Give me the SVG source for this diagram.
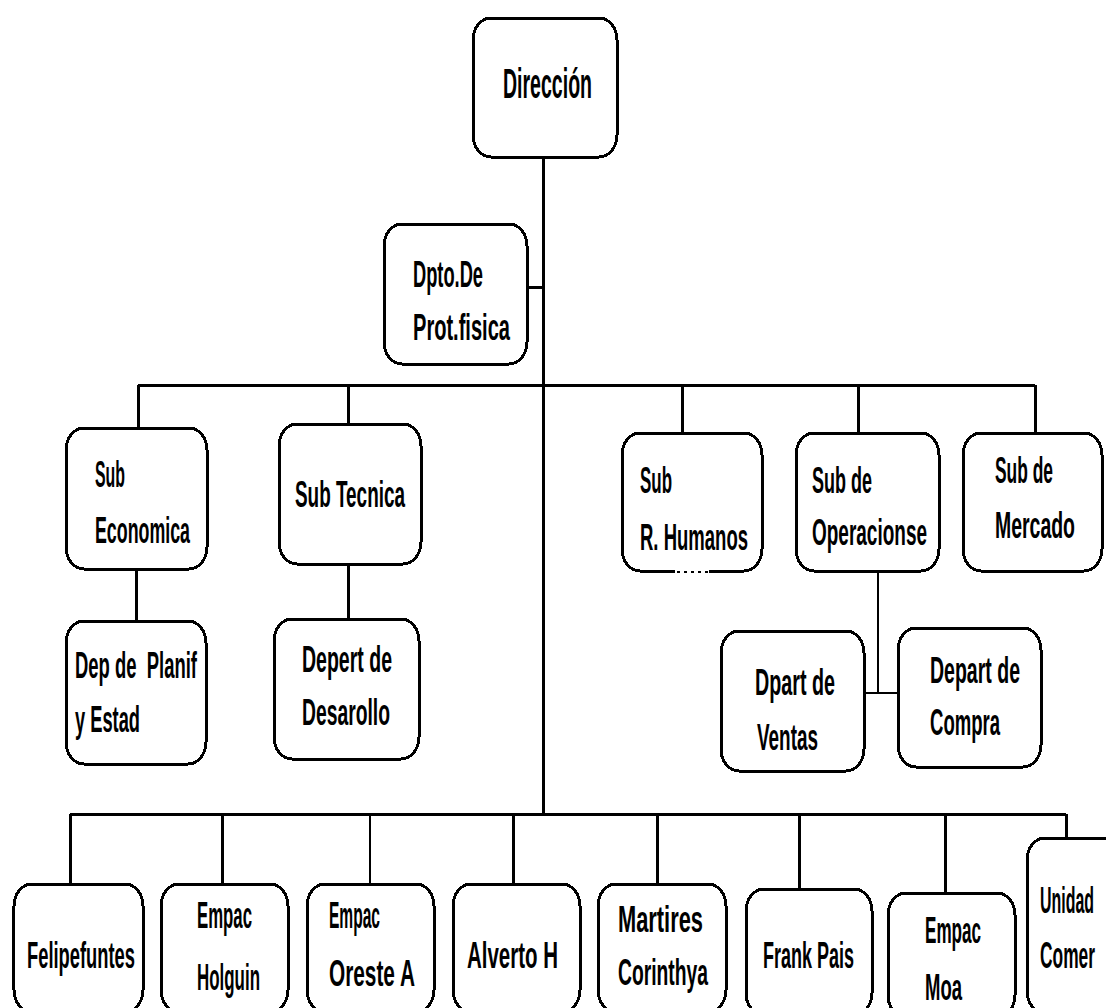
<svg xmlns="http://www.w3.org/2000/svg" width="1106" height="1008" viewBox="0 0 1106 1008">
<style>
.box{fill:#fff;stroke:#000;stroke-width:3;shape-rendering:crispEdges}
.ln{stroke:#000;stroke-width:3;fill:none;shape-rendering:crispEdges}
.thin{stroke-width:2}
.t{font-family:"Liberation Sans",Arial,sans-serif;font-size:37px;font-weight:bold;fill:#000;white-space:pre}
.big{font-size:42px}
</style>
<rect width="1106" height="1008" fill="#fff"/>
<g id="connectors">
<path class="ln" d="M543 157V814M527 287H543M138 385H1035M138 385V428M348 385V424M682 385V433M858 385V433M1035 385V433M136 569V621M348 564V619M70 814H1066M70 814V884M222 814V884M513 814V884M657 814V884M799 814V889M945 814V893M1066 814V838"/>
<path class="ln thin" d="M878 571V693M864 693H898M370 814V884"/>
</g>
<g id="n-direccion"><rect class="box" x="473" y="18" width="144" height="139" rx="18" ry="22"/><text class="t big" transform="scale(0.53,1)" x="949.06" y="98" textLength="167.92" lengthAdjust="spacingAndGlyphs">Dirección</text></g>
<g id="n-dpto"><rect class="box" x="384" y="224" width="143" height="140" rx="18" ry="22"/><text class="t" transform="scale(0.53,1)" x="779.25" y="287" textLength="132.08" lengthAdjust="spacingAndGlyphs">Dpto.De</text><text class="t" transform="scale(0.53,1)" x="779.25" y="340" textLength="183.02" lengthAdjust="spacingAndGlyphs">Prot.fisica</text></g>
<g id="n-subeco"><rect class="box" x="66" y="428" width="141" height="141" rx="18" ry="22"/><text class="t" transform="scale(0.53,1)" x="179.25" y="487" textLength="56.6" lengthAdjust="spacingAndGlyphs">Sub</text><text class="t" transform="scale(0.53,1)" x="179.25" y="543" textLength="179.25" lengthAdjust="spacingAndGlyphs">Economica</text></g>
<g id="n-subtec"><rect class="box" x="279" y="424" width="142" height="140" rx="18" ry="22"/><text class="t" transform="scale(0.53,1)" x="556.6" y="507" textLength="207.55" lengthAdjust="spacingAndGlyphs">Sub Tecnica</text></g>
<g id="n-planif"><rect class="box" x="66" y="621" width="140" height="143" rx="18" ry="22"/><text class="t" transform="scale(0.53,1)" x="141.51" y="678" textLength="230.19" lengthAdjust="spacingAndGlyphs">Dep de  Planif</text><text class="t" transform="scale(0.53,1)" x="141.51" y="732" textLength="122.64" lengthAdjust="spacingAndGlyphs">y Estad</text></g>
<g id="n-desarollo"><rect class="box" x="274" y="619" width="145" height="140" rx="18" ry="22"/><text class="t" transform="scale(0.53,1)" x="569.81" y="672" textLength="169.81" lengthAdjust="spacingAndGlyphs">Depert de</text><text class="t" transform="scale(0.53,1)" x="569.81" y="725" textLength="166.04" lengthAdjust="spacingAndGlyphs">Desarollo</text></g>
<g id="n-rhumanos"><rect class="box" x="622" y="433" width="140" height="138" rx="18" ry="22"/><path d="M675 571H709" stroke="#fff" stroke-width="4"/><path d="M677 572H708" stroke="#000" stroke-width="2" stroke-dasharray="3 4"/><text class="t" transform="scale(0.53,1)" x="1207.55" y="493" textLength="60.38" lengthAdjust="spacingAndGlyphs">Sub</text><text class="t" transform="scale(0.53,1)" x="1207.55" y="550" textLength="203.77" lengthAdjust="spacingAndGlyphs">R. Humanos</text></g>
<g id="n-operaciones"><rect class="box" x="796" y="433" width="143" height="138" rx="18" ry="22"/><text class="t" transform="scale(0.53,1)" x="1532.08" y="493" textLength="113.21" lengthAdjust="spacingAndGlyphs">Sub de</text><text class="t" transform="scale(0.53,1)" x="1532.08" y="545" textLength="216.98" lengthAdjust="spacingAndGlyphs">Operacionse</text></g>
<g id="n-mercado"><rect class="box" x="963" y="433" width="139" height="138" rx="18" ry="22"/><text class="t" transform="scale(0.53,1)" x="1877.36" y="483" textLength="109.43" lengthAdjust="spacingAndGlyphs">Sub de</text><text class="t" transform="scale(0.53,1)" x="1877.36" y="538" textLength="150.94" lengthAdjust="spacingAndGlyphs">Mercado</text></g>
<g id="n-ventas"><rect class="box" x="721" y="631" width="143" height="140" rx="18" ry="22"/><text class="t" transform="scale(0.53,1)" x="1424.53" y="695" textLength="150.94" lengthAdjust="spacingAndGlyphs">Dpart de</text><text class="t" transform="scale(0.53,1)" x="1428.3" y="750" textLength="115.09" lengthAdjust="spacingAndGlyphs">Ventas</text></g>
<g id="n-compra"><rect class="box" x="898" y="628" width="143" height="139" rx="18" ry="22"/><text class="t" transform="scale(0.53,1)" x="1754.72" y="683" textLength="169.81" lengthAdjust="spacingAndGlyphs">Depart de</text><text class="t" transform="scale(0.53,1)" x="1754.72" y="735" textLength="132.08" lengthAdjust="spacingAndGlyphs">Compra</text></g>
<g id="n-felipe"><rect class="box" x="14" y="884" width="129" height="128" rx="18" ry="22"/><text class="t" transform="scale(0.53,1)" x="50.94" y="968" textLength="203.77" lengthAdjust="spacingAndGlyphs">Felipefuntes</text></g>
<g id="n-holguin"><rect class="box" x="161" y="884" width="127" height="128" rx="18" ry="22"/><text class="t" transform="scale(0.53,1)" x="371.7" y="928" textLength="103.77" lengthAdjust="spacingAndGlyphs">Empac</text><text class="t" transform="scale(0.53,1)" x="371.7" y="990" textLength="118.87" lengthAdjust="spacingAndGlyphs">Holguin</text></g>
<g id="n-oreste"><rect class="box" x="307" y="884" width="127" height="128" rx="18" ry="22"/><text class="t" transform="scale(0.53,1)" x="620.75" y="928" textLength="96.23" lengthAdjust="spacingAndGlyphs">Empac</text><text class="t" transform="scale(0.53,1)" x="620.75" y="986" textLength="162.26" lengthAdjust="spacingAndGlyphs">Oreste A</text></g>
<g id="n-alverto"><rect class="box" x="453" y="884" width="127" height="128" rx="18" ry="22"/><text class="t" transform="scale(0.53,1)" x="881.13" y="968" textLength="171.7" lengthAdjust="spacingAndGlyphs">Alverto H</text></g>
<g id="n-martires"><rect class="box" x="598" y="884" width="128" height="128" rx="18" ry="22"/><text class="t" transform="scale(0.53,1)" x="1166.04" y="932" textLength="160.38" lengthAdjust="spacingAndGlyphs">Martires</text><text class="t" transform="scale(0.53,1)" x="1166.04" y="985" textLength="169.81" lengthAdjust="spacingAndGlyphs">Corinthya</text></g>
<g id="n-frank"><rect class="box" x="746" y="889" width="126" height="126" rx="18" ry="22"/><text class="t" transform="scale(0.53,1)" x="1439.62" y="968" textLength="171.7" lengthAdjust="spacingAndGlyphs">Frank Pais</text></g>
<g id="n-moa"><rect class="box" x="888" y="893" width="127" height="124" rx="18" ry="22"/><text class="t" transform="scale(0.53,1)" x="1745.28" y="943" textLength="105.66" lengthAdjust="spacingAndGlyphs">Empac</text><text class="t" transform="scale(0.53,1)" x="1745.28" y="1000" textLength="69.81" lengthAdjust="spacingAndGlyphs">Moa</text></g>
<g id="n-unidad"><rect class="box" x="1027" y="838" width="130" height="175" rx="18" ry="22"/><text class="t" transform="scale(0.53,1)" x="1962.26" y="913" textLength="101.89" lengthAdjust="spacingAndGlyphs">Unidad</text><text class="t" transform="scale(0.53,1)" x="1962.26" y="968" textLength="103.77" lengthAdjust="spacingAndGlyphs">Comer</text></g>
</svg>
